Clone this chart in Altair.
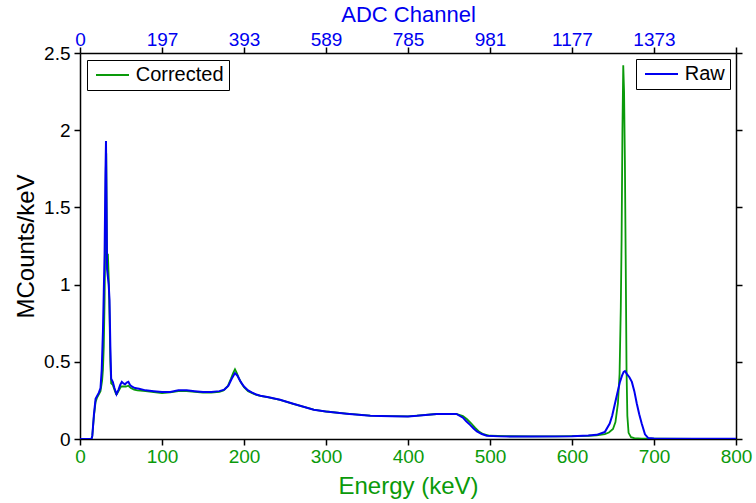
import altair as alt
import pandas as pd

GREEN = "#0A9A0A"
BLUE = "#0000F0"
FONT = "Liberation Sans"

# Corrected spectrum (green)
corr_energy = [0, 14, 15, 17, 19, 21, 23, 25, 27, 28, 29, 30, 31, 31.5, 32, 32.5, 33, 34, 35, 36, 37, 38,
               40, 42, 44, 45, 47, 50, 53, 56, 59, 62, 66, 70, 80, 90, 100, 110, 120, 130, 140, 150, 160,
               170, 175, 180, 184, 187, 189, 191, 194, 197, 200, 205, 210, 215, 220, 230, 244, 260, 285,
               300, 325, 354, 380, 400, 411, 435, 459, 467, 472, 477, 482, 487, 492, 500, 520, 550, 580,
               600, 620, 630, 640, 645, 650, 653, 656, 658, 659.5, 660.5, 661.5, 662.5, 663.5, 664.5,
               665.5, 666.5, 667.5, 669, 672, 676, 685, 700, 750, 800]
corr_counts = [0, 0, 0.02, 0.15, 0.24, 0.27, 0.29, 0.31, 0.38, 0.45, 0.6, 0.9, 1.4, 1.75, 1.85, 1.5, 1.15,
               1.2, 1.05, 0.8, 0.5, 0.36, 0.35, 0.32, 0.29, 0.29, 0.31, 0.34, 0.34, 0.34, 0.345, 0.33,
               0.32, 0.315, 0.31, 0.303, 0.298, 0.302, 0.31, 0.31, 0.305, 0.3, 0.3, 0.305, 0.315, 0.34,
               0.39, 0.43, 0.452, 0.43, 0.39, 0.36, 0.335, 0.31, 0.297, 0.286, 0.28, 0.27, 0.254, 0.228,
               0.19, 0.178, 0.164, 0.151, 0.148, 0.147, 0.151, 0.162, 0.163, 0.148, 0.128, 0.102, 0.072,
               0.046, 0.031, 0.021, 0.018, 0.017, 0.017, 0.019, 0.021, 0.024, 0.032, 0.042, 0.065,
               0.11, 0.23, 0.42, 0.85, 1.3, 2.0, 2.42, 2.25, 1.8, 1.15, 0.45, 0.15, 0.04, 0.012, 0.005,
               0.003, 0.002, 0.001, 0.001]

# Raw spectrum (blue)
raw_energy = [0, 14, 15, 17, 19, 21, 23, 25, 26.5, 28, 29, 30, 31, 31.7, 32.3, 33, 34, 35, 36, 37, 38, 40,
              42, 44.5, 47, 49, 51, 53, 55, 57, 59, 61, 63, 67, 72, 80, 90, 100, 110, 120, 130, 140, 150,
              160, 170, 176, 181, 185, 189, 192, 196, 200, 205, 210, 215, 220, 230, 244, 260, 285, 300,
              325, 354, 380, 400, 411, 435, 459, 467, 471, 476, 480, 484, 490, 496, 512, 550, 600, 620,
              630, 640, 646, 649, 652, 655, 658.5, 661, 663, 664.6, 667, 670, 673, 676, 679, 682, 685,
              689, 693, 700, 750, 800]
raw_counts = [0, 0, 0.02, 0.16, 0.26, 0.28, 0.3, 0.33, 0.45, 0.7, 0.95, 1.2, 1.7, 1.93, 1.55, 1.1, 1.05,
              1.0, 0.9, 0.6, 0.39, 0.37, 0.33, 0.29, 0.32, 0.35, 0.37, 0.36, 0.355, 0.365, 0.37, 0.35,
              0.34, 0.33, 0.325, 0.315, 0.31, 0.305, 0.305, 0.315, 0.315, 0.31, 0.305, 0.305, 0.31,
              0.32, 0.345, 0.39, 0.427, 0.41, 0.37, 0.34, 0.315, 0.3, 0.288, 0.28, 0.27, 0.254, 0.228,
              0.19, 0.178, 0.164, 0.15, 0.147, 0.146, 0.15, 0.162, 0.162, 0.138, 0.115, 0.09, 0.068,
              0.049, 0.032, 0.021, 0.017, 0.016, 0.018, 0.022, 0.027, 0.045, 0.1, 0.15, 0.22, 0.29,
              0.37, 0.41, 0.435, 0.44, 0.42, 0.4, 0.37, 0.31, 0.23, 0.16, 0.1, 0.03, 0.006, 0.003,
              0.002, 0.002]

energy_ticks = [0, 100, 200, 300, 400, 500, 600, 700, 800]
adc_labels = ["0", "197", "393", "589", "785", "981", "1177", "1373", ""]
y_ticks = [0, 0.5, 1, 1.5, 2, 2.5]

df_corr = pd.DataFrame({"energy": corr_energy, "counts": corr_counts, "series": "Corrected"})
df_raw = pd.DataFrame({"energy": raw_energy, "counts": raw_counts, "series": "Raw"})

adc_expr = "".join(
    f"datum.value == {v} ? '{l}' : " for v, l in zip(energy_ticks, adc_labels)
) + "''"

xscale = alt.Scale(domain=[0, 800], nice=False, zero=False)
yscale = alt.Scale(domain=[0, 2.5], nice=False)

common_axis = dict(
    grid=False, domainColor="black", tickColor="black", domainWidth=1.5, tickWidth=1.5,
    tickSize=6, labelFont=FONT, titleFont=FONT, labelFontSize=19,
    titleFontWeight="normal", labelFlush=False, labelOverlap=False,
)

legend_common = dict(
    title=None, strokeColor="black", fillColor="white", padding=5, cornerRadius=0,
    symbolType="M-0.75,0H3.375", symbolSize=256, symbolStrokeWidth=2, labelFont=FONT,
    labelFontSize=20, labelColor="black", labelOffset=23.7,
)

corr = alt.Chart(df_corr).mark_line(strokeWidth=1.8, clip=True).encode(
    x=alt.X("energy:Q", scale=xscale,
            axis=alt.Axis(title="Energy (keV)", values=energy_ticks, format="d",
                          labelColor=GREEN, titleColor=GREEN, labelPadding=2,
                          titleFontSize=24, titleBaseline="alphabetic", titleY=54,
                          **common_axis)),
    y=alt.Y("counts:Q", scale=yscale,
            axis=alt.Axis(title="MCounts/keV", values=y_ticks, format="~g",
                          labelColor="black", titleColor="black", labelPadding=4,
                          titleFontSize=24, titleBaseline="alphabetic", titleX=-47,
                          titleAngle=270, **common_axis)),
    color=alt.Color("series:N", scale=alt.Scale(domain=["Corrected"], range=[GREEN]),
                    legend=alt.Legend(orient="top-left", offset=7, **legend_common)),
)

raw = alt.Chart(df_raw).mark_line(strokeWidth=2, clip=True).encode(
    x=alt.X("energy:Q", scale=xscale,
            axis=alt.Axis(title="ADC Channel", orient="top", values=energy_ticks,
                          labelExpr=adc_expr, labelColor=BLUE, titleColor=BLUE,
                          labelPadding=2, labelBaseline="alphabetic", titleFontSize=22,
                          titleBaseline="alphabetic", titleY=-32, **common_axis)),
    y=alt.Y("counts:Q", scale=yscale,
            axis=alt.Axis(title=None, orient="right", values=y_ticks, labels=False,
                          **common_axis)),
    color=alt.Color("series:N", scale=alt.Scale(domain=["Raw"], range=[BLUE]),
                    legend=alt.Legend(orient="top-right", offset=6, **legend_common)),
)

chart = alt.layer(corr, raw).resolve_scale(color="independent").resolve_axis(
    x="independent", y="independent"
).resolve_legend(color="independent").properties(
    width=656, height=386,
    autosize=alt.AutoSizeParams(type="none"),
    padding={"left": 80, "top": 53, "right": 20, "bottom": 64},
    background="white",
).configure_view(strokeWidth=0)

chart.save("out.html", embed_options={"renderer": "svg", "actions": False})
